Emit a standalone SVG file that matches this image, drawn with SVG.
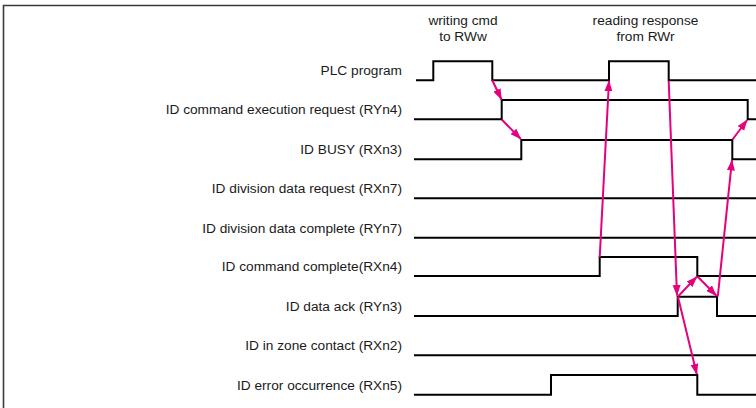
<svg xmlns="http://www.w3.org/2000/svg" width="756" height="408" viewBox="0 0 756 408">
  <defs>
    <style>
      .frame { fill: none; stroke: #3a3a3a; stroke-width: 1.6; }
      .sig { fill: none; stroke: #000; stroke-width: 2; stroke-linejoin: miter; }
      .lbl { font-family: "Liberation Sans", Arial, sans-serif; font-size: 13.7px; fill: #1a1a1a; text-anchor: end; }
      .hdr { font-family: "Liberation Sans", Arial, sans-serif; font-size: 13.7px; fill: #1a1a1a; text-anchor: middle; }
      .arr { fill: none; stroke: #e5007e; stroke-width: 2; marker-end: url(#tip); }
    </style>
    <marker id="tip" markerUnits="userSpaceOnUse" markerWidth="11" markerHeight="11" viewBox="0 0 11 11" refX="10.5" refY="5.5" orient="auto">
      <path d="M0 1.5 L11 5.5 L0 9.5 Z" fill="#e5007e"/>
    </marker>
  </defs>

  <rect width="756" height="408" fill="#fff"/>
  <path class="frame" d="M3.5 408 V5.5 H756"/>

  <!-- phase headers -->
  <g id="hdr-write">
    <text class="hdr" x="463" y="25">writing cmd</text>
    <text class="hdr" x="463" y="40.5">to RWw</text>
  </g>
  <g id="hdr-read">
    <text class="hdr" x="645.5" y="25">reading response</text>
    <text class="hdr" x="645.5" y="40.5">from RWr</text>
  </g>

  <!-- signal rows: label + waveform -->
  <g id="plc">
    <text class="lbl" x="402" y="75.3">PLC program</text>
    <path class="sig" d="M416 80.3 H433.3 V61.3 H492.3 V80.3 H609 V61.3 H668.7 V80.3 H756"/>
  </g>
  <g id="ryn4">
    <text class="lbl" x="402" y="114.3">ID command execution request (RYn4)</text>
    <path class="sig" d="M414 119.3 H501.7 V100 H747.7 V119.3 H756"/>
  </g>
  <g id="rxn3">
    <text class="lbl" x="402" y="154.3">ID BUSY (RXn3)</text>
    <path class="sig" d="M414 159.3 H521.3 V140 H732.3 V159.3 H756"/>
  </g>
  <g id="rxn7">
    <text class="lbl" x="402" y="193.3">ID division data request (RXn7)</text>
    <path class="sig" d="M414 198.3 H756"/>
  </g>
  <g id="ryn7">
    <text class="lbl" x="402" y="232.7">ID division data complete (RYn7)</text>
    <path class="sig" d="M414 237.7 H756"/>
  </g>
  <g id="rxn4">
    <text class="lbl" x="402" y="271">ID command complete(RXn4)</text>
    <path class="sig" d="M414 276 H599.7 V257 H697.3 V276 H756"/>
  </g>
  <g id="ryn3">
    <text class="lbl" x="402" y="311">ID data ack (RYn3)</text>
    <path class="sig" d="M414 316 H677.7 V296.7 H717 V316 H756"/>
  </g>
  <g id="rxn2">
    <text class="lbl" x="402" y="350.3">ID in zone contact (RXn2)</text>
    <path class="sig" d="M414 355.3 H756"/>
  </g>
  <g id="rxn5">
    <text class="lbl" x="402" y="389.7">ID error occurrence (RXn5)</text>
    <path class="sig" d="M414 394.7 H551 V375 H697.3 V394.7 H756"/>
  </g>

  <!-- handshake connectors -->
  <g id="connectors">
    <path class="arr" d="M492.3 80.3 L501.5 99.5"/>
    <path class="arr" d="M501.7 119.5 L520.8 139"/>
    <path class="arr" d="M599.7 257.3 L609 80.8"/>
    <path class="arr" d="M668.7 81 L677 295.5"/>
    <path class="arr" d="M678.2 296.2 L696.8 276.8"/>
    <path class="arr" d="M697.5 276.5 L716.5 295.8"/>
    <path class="arr" d="M717.8 296.5 L732 160"/>
    <path class="arr" d="M732.5 139.5 L747.2 120"/>
    <path class="arr" d="M678 297 L696.8 374.3"/>
  </g>
</svg>
